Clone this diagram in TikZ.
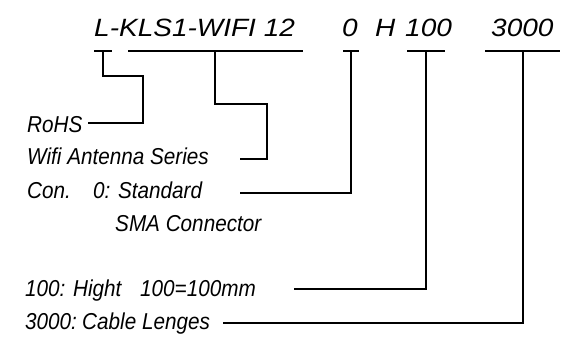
\documentclass[tikz,border=0pt]{standalone}
\usepackage{fontspec}
\setmainfont{Liberation Sans}[FakeStretch=0.9]
\newfontfamily\codefont{Liberation Sans}[FakeStretch=1.12]
\begin{document}
\begin{tikzpicture}[x=1pt,y=-1pt,
    lead/.style={line width=1.2pt},
    code/.style={anchor=base west,inner sep=0pt,
      font=\codefont\itshape\fontsize{25}{27}\selectfont},
    label/.style={anchor=base west,inner sep=0pt,
      font=\itshape\fontsize{23}{25}\selectfont}]
  \useasboundingbox[fill=white] (0,0) rectangle (574,342);

  %% part number
  \node[code] (pn) at (94,37) {L-KLS1-WIFI 12};
  \node[code] (con) at (342,37) {0};
  \node[code] (h) at (375,37) {H};
  \node[code] (hi) at (405,37) {100};
  \node[code] (len) at (491,37) {3000};

  %% underlines
  \draw[lead] (94,51) -- (112,51);
  \draw[lead] (128,51) -- (303,51);
  \draw[lead] (343,51) -- (359,51);
  \draw[lead] (407,51) -- (445,51);
  \draw[lead] (485,51) -- (560,51);

  %% labels
  \node[label] (rohs) at (27,133) {RoHS};
  \node[label] (series) at (27,165) {Wifi Antenna Series};
  \node[label] (conA) at (27,199) {Con.};
  \node[label] (conB) at (93,199) {0: Standard};
  \node[label] (conC) at (115,232) {SMA Connector};
  \node[label] (hiA) at (25,297) {100: Hight};
  \node[label] (hiB) at (140,297) {100=100mm};
  \node[label] (lenA) at (25,330) {3000:};
  \node[label] (lenB) at (82,330) {Cable Lenges};

  %% leader ends
  \coordinate (eRohs) at (88,123);
  \coordinate (eSeries) at (240,159);
  \coordinate (eCon) at (240,193);
  \coordinate (eHi) at (294,289);
  \coordinate (eLen) at (223,323);

  %% leaders
  \draw[lead] (103,51) |- (143,76) |- (eRohs);
  \draw[lead] (215,51) |- (267,104) |- (eSeries);
  \draw[lead] (351,51) |- (eCon);
  \draw[lead] (426,51) |- (eHi);
  \draw[lead] (523,51) |- (eLen);
\end{tikzpicture}
\end{document}
